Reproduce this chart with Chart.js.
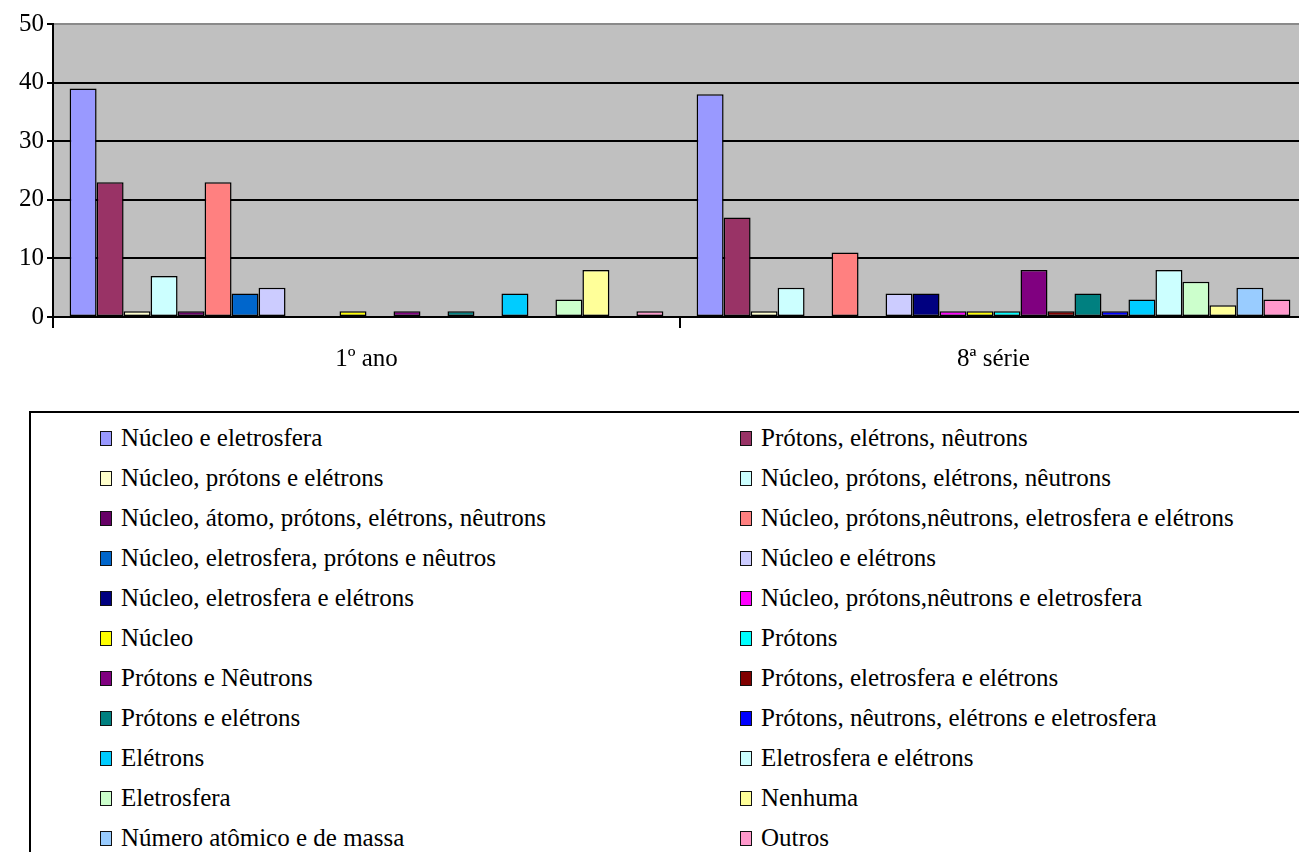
<!DOCTYPE html>
<html>
<head>
<meta charset="utf-8">
<script src="https://cdn.jsdelivr.net/npm/chart.js@4"></script>
<style>
  html, body { margin: 0; padding: 0; background: #fff; overflow: hidden; width: 1299px; height: 852px; }
  #wrap { position: absolute; left: 0; top: 0; width: 1320px; height: 380px; }
  #legend {
    position: absolute; left: 29px; top: 411px; width: 1320px; height: 480px;
    border: 2px solid #000; box-sizing: border-box;
    font-family: "Liberation Serif", "Times New Roman", serif;
    font-size: 25px; color: #000;
  }
  .item { position: absolute; height: 30px; line-height: 30px; white-space: nowrap; }
  .swatch {
    display: inline-block; width: 10px; height: 13px; border: 1.5px solid #111;
    vertical-align: middle; margin-right: 9px; position: relative; top: -2px;
  }
</style>
</head>
<body>
<div id="wrap"><canvas id="chart" width="1320" height="380"></canvas></div>
<div id="legend"></div>
<script>
// categories and series
const categories = ["1º ano", "8ª série"];
const seriesNames = [
  "Núcleo e eletrosfera",
  "Prótons, elétrons, nêutrons",
  "Núcleo, prótons e elétrons",
  "Núcleo, prótons,  elétrons, nêutrons",
  "Núcleo, átomo, prótons, elétrons, nêutrons",
  "Núcleo, prótons,nêutrons, eletrosfera e elétrons",
  "Núcleo, eletrosfera, prótons e nêutros",
  "Núcleo e elétrons",
  "Núcleo, eletrosfera e elétrons",
  "Núcleo, prótons,nêutrons e eletrosfera",
  "Núcleo",
  "Prótons",
  "Prótons e Nêutrons",
  "Prótons, eletrosfera e elétrons",
  "Prótons e elétrons",
  "Prótons, nêutrons, elétrons e eletrosfera",
  "Elétrons",
  "Eletrosfera e elétrons",
  "Eletrosfera",
  "Nenhuma",
  "Número atômico e de massa",
  "Outros",
];
const values1ano = [39, 23, 1, 7, 1, 23, 4, 5, 0, 0, 1, 0, 1, 0, 1, 0, 4, 0, 3, 8, 0, 1];
const values8serie = [38, 17, 1, 5, 0, 11, 0, 4, 4, 1, 1, 1, 8, 1, 4, 1, 3, 8, 6, 2, 5, 3];
const seriesColors = [
  "#9999FF", "#993366", "#FFFFCC", "#CCFFFF", "#660066", "#FF8080",
  "#0066CC", "#CCCCFF", "#000080", "#FF00FF", "#FFFF00", "#00FFFF",
  "#800080", "#800000", "#008080", "#0000FF", "#00CCFF", "#CCFFFF",
  "#CCFFCC", "#FFFF99", "#99CCFF", "#FF99CC",
];
const yTicks = [0, 10, 20, 30, 40, 50];

const FONT = "'Liberation Serif', 'Times New Roman', serif";

const datasets = seriesNames.map((name, i) => ({
  label: name,
  data: [values1ano[i], values8serie[i]],
  backgroundColor: seriesColors[i],
  borderColor: "#000",
  borderWidth: 1.5,
  borderSkipped: false,
  categoryPercentage: 0.947,
  barPercentage: 1.0,
}));

// grey plot background
const plotBg = {
  id: "plotBg",
  beforeDraw(chart) {
    const a = chart.chartArea;
    const ctx = chart.ctx;
    ctx.save();
    ctx.fillStyle = "#C0C0C0";
    ctx.fillRect(a.left, a.top, a.right - a.left, a.bottom - a.top);
    ctx.restore();
  },
};

function draw() {
  new Chart(document.getElementById("chart"), {
    type: "bar",
    data: { labels: categories, datasets: datasets },
    options: {
      responsive: false,
      animation: false,
      layout: { padding: { top: 24, right: 13, left: 0, bottom: 0 } },
      plugins: { legend: { display: false }, tooltip: { enabled: false } },
      scales: {
        x: {
          afterFit: (s) => { s.height = 63; },
          grid: {
            offset: true,
            drawOnChartArea: false,
            color: "#000",
            lineWidth: 2,
            tickLength: 11,
          },
          border: { color: "#000", width: 2 },
          ticks: {
            color: "#000",
            padding: 16,
            font: { family: FONT, size: 25 },
          },
        },
        y: {
          min: 0,
          max: 50,
          afterFit: (s) => { s.width = 53; },
          afterBuildTicks: (s) => { s.ticks = yTicks.map((v) => ({ value: v })); },
          grid: {
            color: (c) => (c.tick && c.tick.value === 50 ? "#8a8a8a" : "#000"),
            lineWidth: 2,
            tickLength: 6,
            tickColor: "#000",
          },
          border: { color: "#000", width: 2 },
          ticks: {
            color: "#000",
            padding: 3,
            font: { family: FONT, size: 25 },
          },
        },
      },
    },
    plugins: [plotBg],
  });
}

// two-column legend box below the chart
let html = "";
seriesNames.forEach((name, i) => {
  const row = Math.floor(i / 2);
  const col = i % 2;
  const left = col === 0 ? 69 : 709;
  const top = 10 + row * 40;
  html += `<div class="item" style="left:${left}px;top:${top}px;">` +
    `<span class="swatch" style="background:${seriesColors[i]}"></span>${name}</div>`;
});
document.getElementById("legend").innerHTML = html;

if (document.fonts && document.fonts.ready) {
  document.fonts.ready.then(draw);
} else {
  draw();
}
</script>
</body>
</html>
